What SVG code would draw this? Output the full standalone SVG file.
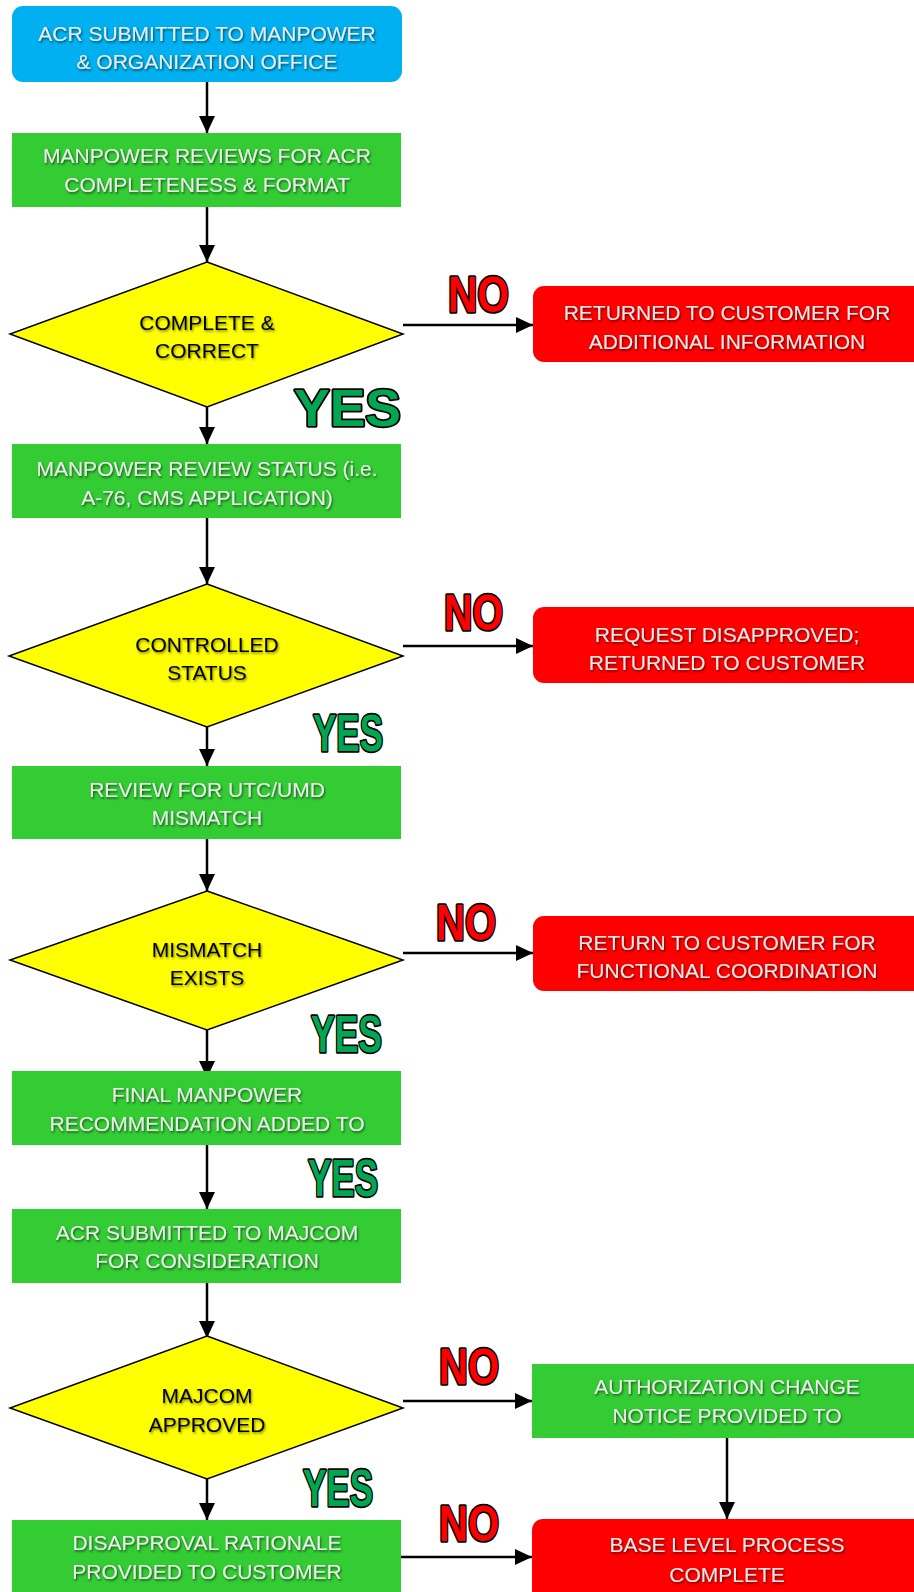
<svg xmlns="http://www.w3.org/2000/svg" width="914" height="1592" viewBox="0 0 914 1592">
  <defs>
    <marker id="arrow" markerUnits="userSpaceOnUse" markerWidth="17" markerHeight="16" refX="17" refY="8" orient="auto">
      <path d="M0,0 L17,8 L0,16 z" fill="#000"/>
    </marker>
    <filter id="soft" x="-10%" y="-30%" width="120%" height="160%">
      <feDropShadow dx="1" dy="1.5" stdDeviation="1" flood-color="#000" flood-opacity="0.6"/>
    </filter>
    <filter id="softDark" x="-10%" y="-30%" width="120%" height="160%">
      <feDropShadow dx="1" dy="1.5" stdDeviation="1.2" flood-color="#000" flood-opacity="0.5"/>
    </filter>
  </defs>
  <style>
    .start { fill: #00b0f0; }
    .step { fill: #33cc33; }
    .stop { fill: #ff0000; }
    .decision { fill: #ffff00; stroke: #000; stroke-width: 1.5; stroke-linejoin: miter; }
    .lbl { font-family: "Liberation Sans", Arial, sans-serif; font-size: 21px; fill: #ececec; text-anchor: middle; filter: url(#soft); }
    .dlbl { font-family: "Liberation Sans", Arial, sans-serif; font-size: 21px; fill: #000; text-anchor: middle; filter: url(#softDark); }
    .yes { font-family: "Liberation Sans", Arial, sans-serif; font-weight: bold; font-size: 52px; fill: #00a651; stroke: #000; stroke-width: 3.5; stroke-linejoin: round; paint-order: stroke; }
    .no { font-family: "Liberation Sans", Arial, sans-serif; font-weight: bold; font-size: 50px; fill: #ff0000; stroke: #000; stroke-width: 3.5; stroke-linejoin: round; paint-order: stroke; }
    .conn { stroke: #000; stroke-width: 2.5; fill: none; marker-end: url(#arrow); }
  </style>

  <rect width="914" height="1592" fill="#fff"/>

  <!-- connectors -->
  <g id="connectors">
    <line class="conn" x1="207" y1="82" x2="207" y2="133"/>
    <line class="conn" x1="207" y1="207" x2="207" y2="262"/>
    <line class="conn" x1="207" y1="388" x2="207" y2="444"/>
    <line class="conn" x1="207" y1="518" x2="207" y2="584"/>
    <line class="conn" x1="207" y1="710" x2="207" y2="766"/>
    <line class="conn" x1="207" y1="839" x2="207" y2="891"/>
    <line class="conn" x1="207" y1="1025" x2="207" y2="1078"/>
    <line class="conn" x1="207" y1="1145" x2="207" y2="1209"/>
    <line class="conn" x1="207" y1="1283" x2="207" y2="1338"/>
    <line class="conn" x1="207" y1="1464" x2="207" y2="1520"/>
    <line class="conn" x1="403" y1="325" x2="533" y2="325"/>
    <line class="conn" x1="403" y1="646" x2="533" y2="646"/>
    <line class="conn" x1="403" y1="953" x2="533" y2="953"/>
    <line class="conn" x1="403" y1="1401" x2="532" y2="1401"/>
    <line class="conn" x1="401" y1="1557" x2="532" y2="1557"/>
    <line class="conn" x1="727" y1="1438" x2="727" y2="1519"/>
  </g>

  <!-- main column -->
  <g id="acr-submitted">
    <rect class="start" x="12" y="6" width="390" height="76" rx="11"/>
    <text class="lbl" x="207" y="41">ACR SUBMITTED TO MANPOWER</text>
    <text class="lbl" x="207" y="69">&amp; ORGANIZATION OFFICE</text>
  </g>

  <g id="manpower-reviews">
    <rect class="step" x="12" y="133" width="389" height="74"/>
    <text class="lbl" x="207" y="163">MANPOWER REVIEWS FOR ACR</text>
    <text class="lbl" x="207" y="192">COMPLETENESS &amp; FORMAT</text>
  </g>

  <g id="complete-correct">
    <polygon class="decision" points="207,262 403,334 207,407 10,334"/>
    <text class="dlbl" x="207" y="330">COMPLETE &amp;</text>
    <text class="dlbl" x="207" y="358">CORRECT</text>
  </g>

  <g id="returned-info">
    <rect class="stop" x="533" y="286" width="400" height="76" rx="11"/>
    <text class="lbl" x="727" y="320">RETURNED TO CUSTOMER FOR</text>
    <text class="lbl" x="727" y="349">ADDITIONAL INFORMATION</text>
  </g>

  <g id="review-status">
    <rect class="step" x="12" y="444" width="389" height="74"/>
    <text class="lbl" x="207" y="476">MANPOWER REVIEW STATUS (i.e.</text>
    <text class="lbl" x="207" y="505">A-76, CMS APPLICATION)</text>
  </g>

  <g id="controlled-status">
    <polygon class="decision" points="207,584 403,656 207,727 9,656"/>
    <text class="dlbl" x="207" y="652">CONTROLLED</text>
    <text class="dlbl" x="207" y="680">STATUS</text>
  </g>

  <g id="request-disapproved">
    <rect class="stop" x="533" y="607" width="400" height="76" rx="11"/>
    <text class="lbl" x="727" y="642">REQUEST DISAPPROVED;</text>
    <text class="lbl" x="727" y="670">RETURNED TO CUSTOMER</text>
  </g>

  <g id="review-mismatch">
    <rect class="step" x="12" y="766" width="389" height="73"/>
    <text class="lbl" x="207" y="797">REVIEW FOR UTC/UMD</text>
    <text class="lbl" x="207" y="825">MISMATCH</text>
  </g>

  <g id="mismatch-exists">
    <polygon class="decision" points="207,891 403,960 207,1030 10,960"/>
    <text class="dlbl" x="207" y="957">MISMATCH</text>
    <text class="dlbl" x="207" y="985">EXISTS</text>
  </g>

  <g id="functional-coordination">
    <rect class="stop" x="533" y="916" width="400" height="75" rx="11"/>
    <text class="lbl" x="727" y="950">RETURN TO CUSTOMER FOR</text>
    <text class="lbl" x="727" y="978">FUNCTIONAL COORDINATION</text>
  </g>

  <g id="final-recommendation">
    <rect class="step" x="12" y="1071" width="389" height="74"/>
    <text class="lbl" x="207" y="1102">FINAL MANPOWER</text>
    <text class="lbl" x="207" y="1131">RECOMMENDATION ADDED TO</text>
  </g>

  <g id="submitted-majcom">
    <rect class="step" x="12" y="1209" width="389" height="74"/>
    <text class="lbl" x="207" y="1240">ACR SUBMITTED TO MAJCOM</text>
    <text class="lbl" x="207" y="1268">FOR CONSIDERATION</text>
  </g>

  <g id="majcom-approved">
    <polygon class="decision" points="207,1336 403,1408 207,1479 10,1408"/>
    <text class="dlbl" x="207" y="1403">MAJCOM</text>
    <text class="dlbl" x="207" y="1432">APPROVED</text>
  </g>

  <g id="change-notice">
    <rect class="step" x="532" y="1364" width="400" height="74"/>
    <text class="lbl" x="727" y="1394">AUTHORIZATION CHANGE</text>
    <text class="lbl" x="727" y="1423">NOTICE PROVIDED TO</text>
  </g>

  <g id="disapproval-rationale">
    <rect class="step" x="12" y="1520" width="389" height="80"/>
    <text class="lbl" x="207" y="1550">DISAPPROVAL RATIONALE</text>
    <text class="lbl" x="207" y="1579">PROVIDED TO CUSTOMER</text>
  </g>

  <g id="process-complete">
    <rect class="stop" x="532" y="1519" width="400" height="90" rx="11"/>
    <text class="lbl" x="727" y="1552">BASE LEVEL PROCESS</text>
    <text class="lbl" x="727" y="1582">COMPLETE</text>
  </g>

  <!-- branch labels -->
  <g id="branch-labels">
    <text class="yes" x="294" y="426" font-size="54" textLength="107" lengthAdjust="spacingAndGlyphs">YES</text>
    <text class="yes" x="313" y="751" textLength="70" lengthAdjust="spacingAndGlyphs">YES</text>
    <text class="yes" x="311" y="1052" textLength="71" lengthAdjust="spacingAndGlyphs">YES</text>
    <text class="yes" x="308" y="1196" textLength="70" lengthAdjust="spacingAndGlyphs">YES</text>
    <text class="yes" x="303" y="1506" textLength="70" lengthAdjust="spacingAndGlyphs">YES</text>
    <text class="no" x="448" y="312" textLength="61" lengthAdjust="spacingAndGlyphs">NO</text>
    <text class="no" x="444" y="630" textLength="59" lengthAdjust="spacingAndGlyphs">NO</text>
    <text class="no" x="436" y="940" textLength="60" lengthAdjust="spacingAndGlyphs">NO</text>
    <text class="no" x="439" y="1384" textLength="60" lengthAdjust="spacingAndGlyphs">NO</text>
    <text class="no" x="439" y="1541" textLength="60" lengthAdjust="spacingAndGlyphs">NO</text>
  </g>
</svg>
